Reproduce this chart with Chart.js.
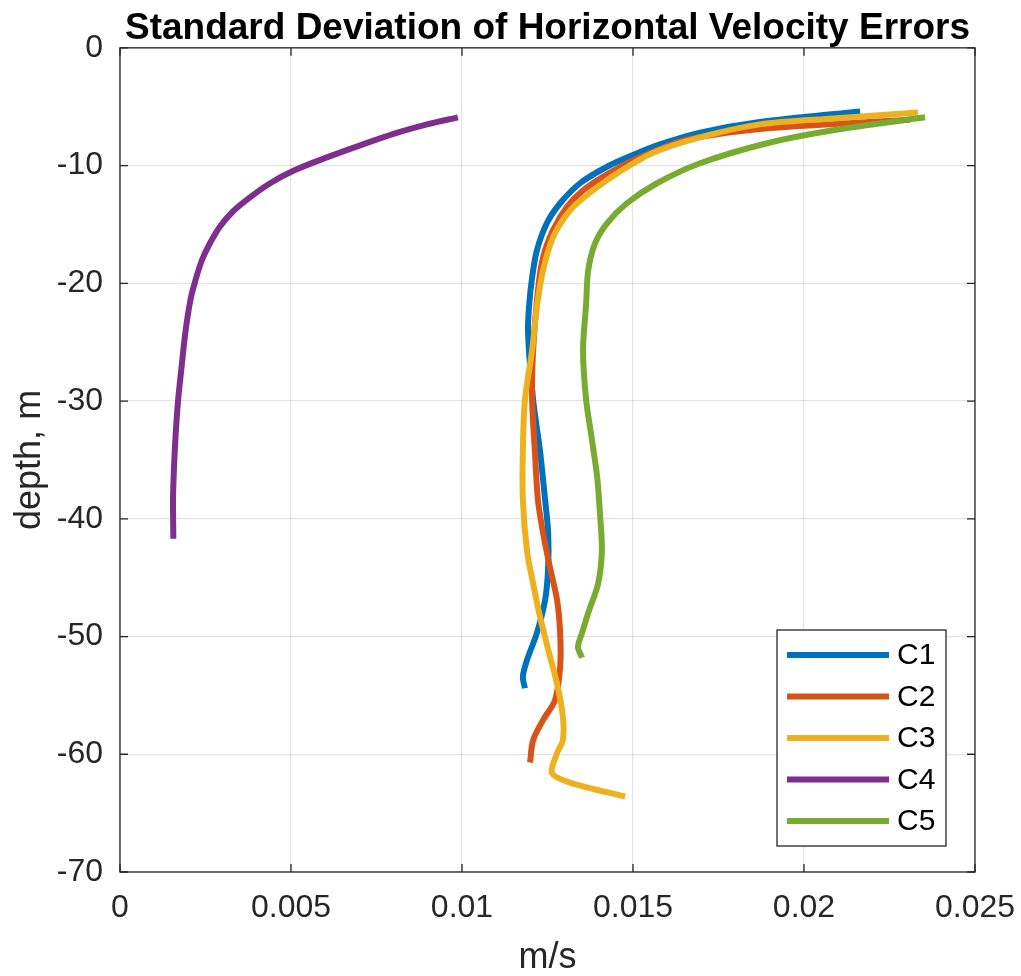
<!DOCTYPE html>
<html>
<head>
<meta charset="utf-8">
<script src="https://cdn.jsdelivr.net/npm/chart.js@4"></script>
<style>
  html, body { margin: 0; padding: 0; background: #fff; }
  #velChart { display: block; }
</style>
</head>
<body>
<canvas id="velChart" width="1021" height="976"></canvas>
<script>
// Standard deviation of horizontal velocity error (m/s) vs depth (m), per cast
const c1Speed = [0.02164, 0.01871, 0.01696, 0.01579, 0.0150, 0.01424, 0.01345, 0.01287, 0.01248, 0.01219, 0.01205, 0.01196, 0.01193, 0.01208, 0.01228, 0.01243, 0.01252, 0.01252, 0.01243, 0.01219, 0.0119, 0.01178, 0.01184];
const c1Depth = [-5.4, -6.3, -7.2, -8.2, -9.1, -10.1, -11.5, -13.2, -14.9, -17.2, -19.5, -22.0, -24.2, -29.9, -34.2, -38.4, -41.2, -44.1, -46.9, -49.7, -52.0, -53.4, -54.4];

const c2Speed = [0.0231, 0.02126, 0.01871, 0.01658, 0.0152, 0.01433, 0.01354, 0.01307, 0.01266, 0.01237, 0.01222, 0.01208, 0.01205, 0.01213, 0.01222, 0.01237, 0.01257, 0.01278, 0.01287, 0.01287, 0.01272, 0.01237, 0.01208, 0.01199];
const c2Depth = [-6.1, -6.4, -6.9, -7.8, -9.3, -10.6, -12.1, -13.5, -15.5, -17.8, -20.6, -25.7, -29.9, -34.2, -38.4, -41.2, -44.1, -46.9, -49.7, -52.6, -55.4, -57.1, -58.8, -60.7];

const c3Speed = [0.02333, 0.02085, 0.01871, 0.01696, 0.01559, 0.01462, 0.01383, 0.01316, 0.01266, 0.01237, 0.01219, 0.01205, 0.01184, 0.01178, 0.01178, 0.0119, 0.01208, 0.01228, 0.01252, 0.01278, 0.01295, 0.01295, 0.01278, 0.01263, 0.01316, 0.01477];
const c3Depth = [-5.5, -6.0, -6.5, -7.6, -8.9, -10.5, -12.1, -13.8, -16.1, -18.9, -22.0, -25.7, -29.9, -34.2, -38.4, -42.7, -45.5, -48.3, -51.1, -54.0, -56.8, -58.8, -59.9, -61.6, -62.4, -63.6];

const c4Speed = [0.00988, 0.00898, 0.00800, 0.00700, 0.00605, 0.00510, 0.00439, 0.0038, 0.0033, 0.00292, 0.00263, 0.0024, 0.00221, 0.00206, 0.00191, 0.00180, 0.0017, 0.00163, 0.00158, 0.00155, 0.00156];
const c4Depth = [-5.9, -6.5, -7.3, -8.3, -9.3, -10.4, -11.5, -12.7, -13.9, -15.2, -16.6, -18.0, -19.7, -21.4, -24.2, -27.1, -29.9, -32.7, -35.6, -38.4, -41.7];

const c5Speed = [0.02354, 0.02085, 0.01892, 0.01696, 0.0157, 0.01482, 0.01424, 0.01389, 0.01369, 0.01363, 0.01354, 0.01363, 0.0138, 0.01395, 0.01404, 0.01409, 0.01398, 0.01369, 0.01351, 0.01339, 0.01351];
const c5Depth = [-5.9, -7.0, -8.1, -9.8, -11.5, -13.2, -14.9, -16.6, -18.9, -21.7, -25.7, -29.9, -33.3, -36.4, -39.8, -42.7, -45.5, -48.0, -49.7, -50.9, -51.8];

const castNames = ['C1', 'C2', 'C3', 'C4', 'C5'];
const castColors = ['#0072BD', '#D95319', '#EDB120', '#7E2F8E', '#77AC30'];
const speeds = [c1Speed, c2Speed, c3Speed, c4Speed, c5Speed];
const depths = [c1Depth, c2Depth, c3Depth, c4Depth, c5Depth];

const xTicks = [0, 0.005, 0.01, 0.015, 0.02, 0.025];
const yTicks = [0, -10, -20, -30, -40, -50, -60, -70];

const FONT = '"Liberation Sans", Arial, sans-serif';
const AXIS_COLOR = '#262626';

// Box around the axes with inward tick marks on all four sides
const boxPlugin = {
    id: 'box',
    afterDatasetsDraw(chart) {
        const { ctx, chartArea: a, scales } = chart;
        ctx.save();
        ctx.strokeStyle = AXIS_COLOR;
        ctx.lineWidth = 1.3;
        ctx.strokeRect(a.left, a.top, a.right - a.left, a.bottom - a.top);
        const len = 8;
        ctx.beginPath();
        xTicks.forEach(v => {
            const px = scales.x.getPixelForValue(v);
            ctx.moveTo(px, a.bottom); ctx.lineTo(px, a.bottom - len);
            ctx.moveTo(px, a.top); ctx.lineTo(px, a.top + len);
        });
        yTicks.forEach(v => {
            const py = scales.y.getPixelForValue(v);
            ctx.moveTo(a.left, py); ctx.lineTo(a.left + len, py);
            ctx.moveTo(a.right, py); ctx.lineTo(a.right - len, py);
        });
        ctx.stroke();
        ctx.restore();
    }
};

// Legend box in the lower right corner of the plot area
const insetLegend = {
    id: 'insetLegend',
    afterDraw(chart) {
        const { ctx, chartArea: a } = chart;
        const w = 169, h = 216, rowH = 41.5;
        const x0 = a.right - 29 - w, y0 = a.bottom - 26 - h;
        ctx.save();
        ctx.fillStyle = '#fff';
        ctx.fillRect(x0, y0, w, h);
        ctx.strokeStyle = AXIS_COLOR;
        ctx.lineWidth = 1.3;
        ctx.strokeRect(x0, y0, w, h);
        ctx.font = '30px ' + FONT;
        ctx.textBaseline = 'middle';
        castNames.forEach((name, i) => {
            const cy = y0 + 25 + i * rowH;
            ctx.strokeStyle = castColors[i];
            ctx.lineWidth = 6;
            ctx.beginPath();
            ctx.moveTo(x0 + 10, cy);
            ctx.lineTo(x0 + 112, cy);
            ctx.stroke();
            ctx.fillStyle = '#000';
            ctx.fillText(name, x0 + 120, cy + 1);
        });
        ctx.restore();
    }
};

const datasets = castNames.map((name, i) => ({
    label: name,
    data: speeds[i].map((s, k) => ({ x: s, y: depths[i][k] })),
    borderColor: castColors[i],
    backgroundColor: castColors[i],
    borderWidth: 6,
    pointRadius: 0,
    showLine: true,
    tension: 0.3,
    order: castNames.length - i
}));

const ctx = document.getElementById('velChart').getContext('2d');
const velChart = new Chart(ctx, {
    type: 'scatter',
    data: { datasets },
    options: {
        responsive: false,
        animation: false,
        layout: { padding: { left: 0, right: 46, top: 0, bottom: 0 } },
        plugins: {
            legend: { display: false },
            tooltip: { enabled: false },
            title: {
                display: true,
                fullSize: false,
                text: 'Standard Deviation of Horizontal Velocity Errors',
                color: '#000',
                font: { family: FONT, size: 37, weight: 'bold', lineHeight: 1.05 },
                padding: { top: 9, bottom: 0 }
            }
        },
        scales: {
            x: {
                type: 'linear',
                min: 0,
                max: 0.025,
                afterBuildTicks(scale) { scale.ticks = xTicks.map(v => ({ value: v })); },
                afterFit(scale) {
                    scale.height = 104;
                    scale.paddingLeft = 0;
                    scale.paddingRight = 0;
                },
                ticks: {
                    color: '#262626',
                    padding: 17,
                    font: { family: FONT, size: 32 },
                    callback: v => String(+v.toFixed(3))
                },
                grid: { color: 'rgba(0,0,0,0.11)', lineWidth: 1.2, drawTicks: false },
                border: { display: false },
                title: {
                    display: true,
                    text: 'm/s',
                    color: '#262626',
                    font: { family: FONT, size: 36, lineHeight: 1.0 },
                    padding: { top: 0, bottom: 0 }
                }
            },
            y: {
                type: 'linear',
                min: -70,
                max: 0,
                afterBuildTicks(scale) { scale.ticks = yTicks.map(v => ({ value: v })); },
                afterFit(scale) {
                    scale.width = 120;
                    scale.paddingTop = 0;
                    scale.paddingBottom = 0;
                },
                ticks: {
                    color: '#262626',
                    padding: 17,
                    font: { family: FONT, size: 32 }
                },
                grid: { color: 'rgba(0,0,0,0.11)', lineWidth: 1.2, drawTicks: false },
                border: { display: false },
                title: {
                    display: true,
                    text: 'depth, m',
                    color: '#262626',
                    font: { family: FONT, size: 36, lineHeight: 1.0 },
                    padding: { top: 12, bottom: 0 }
                }
            }
        }
    },
    plugins: [boxPlugin, insetLegend]
});
</script>
</body>
</html>
